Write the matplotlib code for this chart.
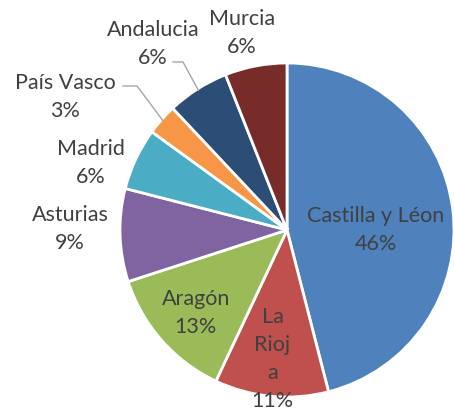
#!/usr/bin/env python
"""
Pie chart of shares by region (recreated from a spreadsheet chart)
"""

import numpy as np
import matplotlib.pyplot as plt

# data
REGIONS = ["Castilla y Léon", "La\nRioj\na", "Aragón", "Asturias",
           "Madrid", "País Vasco", "Andalucia", "Murcia"]
SHARES = [46, 11, 13, 9, 6, 3, 6, 6]
COLORS = ["#4F81BD", "#C0504D", "#9BBB59", "#8064A2",
          "#4BACC6", "#F79646", "#2C4D75", "#772C2A"]

# label placement: radius factor and angle tweak (degrees) per slice
LABEL_R = [0.53, 0.78, 0.74, 1.30, 1.24, 1.55, 1.374, 1.21]
LABEL_DA = [7, 1, -1, 2, -6.4, -10.5, -3.4, -2]

W, H = 454, 411
CX, CY, R = 287, 181, 167
TEXT = "#404040"


def plot():
    fig = plt.figure(figsize=(W / 100, H / 100), dpi=100)
    ax = fig.add_axes([0, 0, 1, 1])

    ax.pie(SHARES, colors=COLORS, startangle=90, counterclock=False,
           center=(CX, CY), radius=R, frame=True,
           wedgeprops=dict(edgecolor="white", linewidth=2))
    ax.set_xlim(0, W)
    ax.set_ylim(0, H)
    ax.set_aspect("equal")
    ax.axis("off")

    total = sum(SHARES)
    cum = np.cumsum([0] + SHARES)
    for i, name in enumerate(REGIONS):
        mid = 360 * (cum[i] + SHARES[i] / 2) / total
        a = np.radians(mid + LABEL_DA[i])
        x = CX + LABEL_R[i] * R * np.sin(a)
        y = CY + LABEL_R[i] * R * np.cos(a)
        pct = round(100 * SHARES[i] / total)
        ax.text(x, y, f"{name}\n{pct}%", ha="center", va="center",
                fontsize=15.5, family="Lato", color=TEXT, linespacing=1.5)

    # leader lines for the two small slices
    for i, elbow, end in [(5, (137, 325), (123, 325)),
                          (6, (183, 349), (173, 349))]:
        mid = np.radians(360 * (cum[i] + SHARES[i] / 2) / total)
        px = CX + 0.99 * R * np.sin(mid)
        py = CY + 0.99 * R * np.cos(mid)
        ax.plot([px, elbow[0], end[0]], [py, elbow[1], end[1]],
                color="#A6A6A6", linewidth=1)

    fig.savefig("out.png", dpi=100)


if __name__ == "__main__":
    plot()
